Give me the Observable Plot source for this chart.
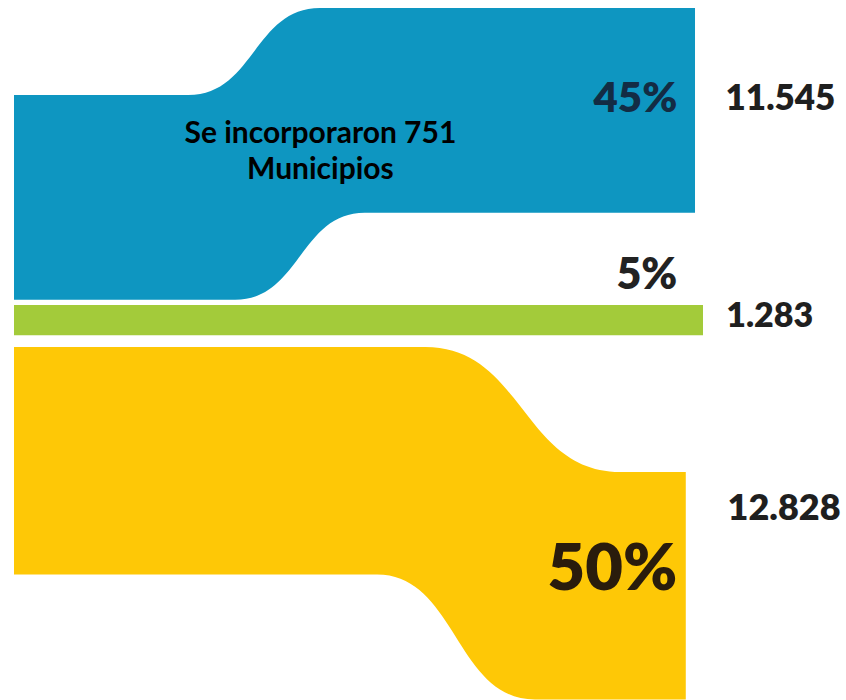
<!DOCTYPE html>
<html><head><meta charset="utf-8">
<script src="https://cdn.jsdelivr.net/npm/d3@7"></script>
<script src="https://cdn.jsdelivr.net/npm/@observablehq/plot@0.6"></script>
<style>body{margin:0;background:#fff;} #chart svg{display:block}</style>
</head><body><div id="chart"></div>
<script>
// ---- data ----
const bands = ["Azul", "Verde", "Amarillo"];
const values = [11545, 1283, 12828];
const shares = ["45%", "5%", "50%"];
const valueLabels = ["11.545", "1.283", "12.828"];
const noteLines = ["Se incorporaron 751", "Municipios"];

// ---- layout & style (data units: x = progress 0..100, y = municipios) ----
const colors = ["#0e96c1", "#a3cb3a", "#fec806"];
const minBand = 1700;
const leftTop = [5358, 17202, 19571];
const rightTop = [451, 17202, 26621];
const bendTop = [[25.3, 44.4], null, [59.7, 88.0]];
const bendBottom = [[32.1, 50.9], null, [52.7, 75.6]];
const rightEnd = [98.84, 100, 97.5];
const shareStyle = [
  {x: 96.2, y: 5556, size: 42, ls: "0px", color: "#132c44"},
  {x: 96.2, y: 15510, size: 43, ls: "0px", color: "#222222"},
  {x: 96.2, y: 32064, size: 65, ls: "1px", color: "#2a1c0c"}
];
const valueStyle = [
  {x: 103.2, y: 5556, size: 35, ls: "-2.5px"},
  {x: 103.3, y: 17795, size: 34, ls: "-2px"},
  {x: 103.5, y: 28624, size: 36, ls: "-2.5px"}
];
const notePos = {x: 44.4, y: 8376};

const marks = [];
bands.forEach((b, i) => {
  const th = Math.max(values[i], minBand);
  const lt = leftTop[i], rt = rightTop[i], end = rightEnd[i];
  const pts = [{x1: 0, y1: lt, x2: 0, y2: lt + th}];
  if (bendTop[i]) {
    pts.push({x1: bendTop[i][0], y1: lt, x2: bendBottom[i][0], y2: lt + th});
    pts.push({x1: bendTop[i][1], y1: rt, x2: bendBottom[i][1], y2: rt + th});
  }
  pts.push({x1: end, y1: rt, x2: end, y2: rt + th});
  marks.push(Plot.area(pts, {x1: "x1", y1: "y1", x2: "x2", y2: "y2", curve: "bump-x", fill: colors[i]}));
});
shares.forEach((s, i) => {
  const st = shareStyle[i];
  marks.push(Plot.text([s], {x: () => st.x, y: () => st.y, text: d => d, textAnchor: "end",
    fontSize: st.size, fontWeight: 800, fill: st.color, fontFamily: "Lato", letterSpacing: st.ls}));
});
valueLabels.forEach((s, i) => {
  const st = valueStyle[i];
  marks.push(Plot.text([s], {x: () => st.x, y: () => st.y, text: d => d, textAnchor: "start",
    fontSize: st.size, fontWeight: 800, fill: "#1f1f1f", fontFamily: "Lato", letterSpacing: st.ls}));
});
marks.push(Plot.text([noteLines.join("\n")], {x: () => notePos.x, y: () => notePos.y, text: d => d,
  textAnchor: "middle", fontSize: 30, fontWeight: 700, fill: "#000", fontFamily: "Lato", lineHeight: 1.2}));

const chart = Plot.plot({
  width: 846, height: 700,
  marginTop: 0, marginRight: 0, marginBottom: 0, marginLeft: 0,
  x: {domain: [0, 100], range: [14, 703], axis: null},
  y: {domain: [0, 39480], range: [0, 700], axis: null},
  style: {background: "#fff", overflow: "visible"},
  marks
});
document.getElementById("chart").appendChild(chart);
</script>
</body></html>
